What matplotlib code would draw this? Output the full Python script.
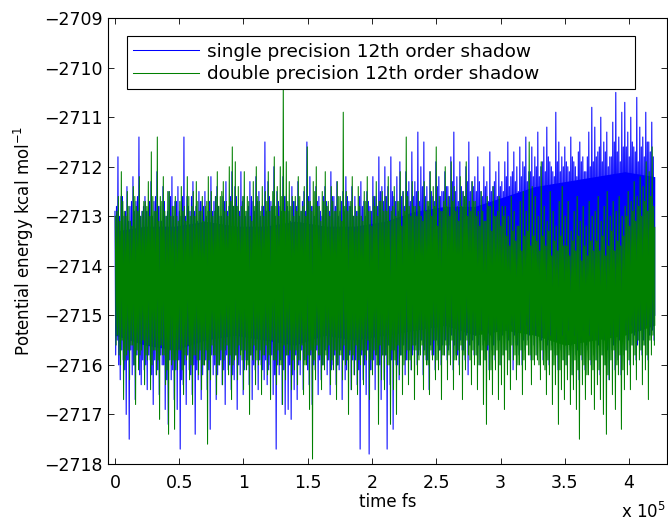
import matplotlib
matplotlib.use("Agg")
import matplotlib.pyplot as plt
from matplotlib.ticker import FuncFormatter, MultipleLocator
import numpy as np

plt.rcParams['font.family'] = ['DejaVu Sans']

# samples, 180 per list, spread over 0 .. 4.2e5 fs
# *_hi / *_lo : the tall spikes,  *_hi2 / *_lo2 : the short spikes at the edge of the solid band
t_end = 4.2e5

single_hi = [
    -2712.9, -2711.8, -2712.6, -2713.0, -2712.4, -2712.8, -2712.2, -2712.7, -2711.4, -2712.9,
    -2712.6, -2712.9, -2712.3, -2712.7, -2712.1, -2712.8, -2712.4, -2713.0, -2712.5, -2712.2,
    -2712.7, -2712.4, -2713.0, -2711.4, -2712.6, -2712.9, -2712.3, -2712.8, -2712.5, -2712.7,
    -2712.5, -2712.9, -2712.2, -2712.7, -2712.4, -2713.0, -2712.6, -2712.3, -2712.8, -2712.1,
    -2712.4, -2712.8, -2712.1, -2712.6, -2712.9, -2712.3, -2712.7, -2712.2, -2712.5, -2712.8,
    -2711.5, -2712.3, -2712.7, -2712.0, -2712.5, -2712.8, -2712.2, -2712.6, -2712.9, -2712.4,
    -2712.7, -2712.3, -2712.9, -2712.5, -2711.5, -2712.2, -2712.8, -2712.4, -2712.6, -2713.0,
    -2712.4, -2712.8, -2712.1, -2712.6, -2712.3, -2712.9, -2712.5, -2712.2, -2712.7, -2712.4,
    -2712.6, -2712.9, -2712.3, -2712.7, -2712.5, -2712.8, -2712.2, -2712.6, -2711.8, -2712.4,
    -2712.0, -2712.4, -2711.8, -2712.6, -2712.2, -2711.9, -2712.5, -2712.1, -2712.3, -2711.7,
    -2712.3, -2711.3, -2712.0, -2711.5, -2712.4, -2712.1, -2712.6, -2711.9, -2712.2, -2712.5,
    -2712.1, -2712.4, -2711.8, -2711.3, -2712.2, -2711.9, -2712.5, -2712.0, -2711.5, -2712.3,
    -2712.2, -2711.8, -2712.5, -2712.0, -2712.3, -2711.7, -2712.4, -2712.1, -2711.9, -2712.3,
    -2711.9, -2711.5, -2712.2, -2711.7, -2712.0, -2711.6, -2711.9, -2711.4, -2712.1, -2711.6,
    -2711.8, -2711.3, -2712.0, -2711.6, -2711.2, -2711.9, -2712.1, -2710.9, -2711.5, -2711.8,
    -2711.6, -2712.0, -2711.4, -2711.9, -2712.2, -2711.5, -2711.8, -2712.1, -2711.3, -2710.8,
    -2711.2, -2711.7, -2711.0, -2711.5, -2711.3, -2711.8, -2711.1, -2710.5, -2711.4, -2710.9,
    -2710.7, -2711.3, -2711.0, -2711.6, -2710.6, -2711.2, -2711.4, -2710.9, -2711.5, -2711.1,
]
single_lo = [
    -2715.5, -2716.3, -2715.9, -2717.0, -2717.5, -2716.2, -2716.7, -2715.8, -2716.4, -2716.1,
    -2716.5, -2715.9, -2716.8, -2716.2, -2716.6, -2716.0, -2716.9, -2717.2, -2716.3, -2716.7,
    -2716.9, -2717.7, -2716.4, -2716.8, -2716.1, -2716.6, -2717.4, -2716.3, -2716.7, -2716.0,
    -2716.5, -2717.3, -2716.2, -2716.7, -2716.0, -2716.4, -2716.8, -2716.1, -2716.5, -2716.3,
    -2716.9, -2716.2, -2716.6, -2715.9, -2716.4, -2716.7, -2716.1, -2716.5, -2716.0, -2716.3,
    -2716.4, -2716.0, -2716.6, -2717.7, -2716.2, -2716.8, -2717.0, -2716.9, -2717.1, -2716.5,
    -2716.7, -2716.2, -2716.5, -2715.9, -2716.4, -2716.8, -2716.1, -2716.6, -2716.3, -2716.0,
    -2716.2, -2716.6, -2716.0, -2716.4, -2716.1, -2716.7, -2716.3, -2715.9, -2716.5, -2716.2,
    -2716.4, -2717.7, -2716.3, -2716.6, -2717.8, -2716.1, -2716.5, -2716.0, -2716.7, -2716.3,
    -2717.7, -2716.4, -2717.3, -2716.0, -2716.3, -2715.8, -2716.2, -2715.9, -2716.1, -2715.7,
    -2716.0, -2715.7, -2716.2, -2715.9, -2716.5, -2715.8, -2716.1, -2715.6, -2716.0, -2715.8,
    -2715.9, -2715.6, -2716.1, -2715.8, -2716.0, -2715.7, -2715.9, -2716.2, -2715.6, -2715.8,
    -2715.8, -2716.0, -2715.6, -2715.9, -2716.1, -2715.7, -2715.9, -2715.5, -2716.0, -2715.8,
    -2715.7, -2715.9, -2716.1, -2715.6, -2715.8, -2716.0, -2715.7, -2715.5, -2715.9, -2715.6,
    -2715.8, -2715.5, -2715.9, -2715.7, -2716.0, -2715.6, -2715.8, -2716.1, -2715.7, -2715.9,
    -2716.0, -2715.7, -2716.2, -2715.8, -2716.3, -2715.9, -2716.1, -2715.7, -2716.0, -2715.8,
    -2715.9, -2716.2, -2715.8, -2716.0, -2716.3, -2715.7, -2716.1, -2715.9, -2716.2, -2715.8,
    -2715.7, -2716.0, -2715.6, -2715.9, -2715.5, -2715.8, -2715.6, -2715.9, -2715.4, -2715.5,
]
single_hi2 = [
    -2712.8, -2713.0, -2712.6, -2712.9, -2713.1, -2712.7, -2712.9, -2712.6, -2713.0, -2712.8,
    -2712.9, -2712.7, -2713.0, -2712.6, -2712.8, -2713.1, -2712.7, -2712.9, -2712.6, -2713.0,
    -2712.7, -2712.9, -2712.6, -2713.0, -2712.8, -2712.6, -2712.9, -2713.1, -2712.7, -2712.8,
    -2713.0, -2712.7, -2712.9, -2712.6, -2712.8, -2713.0, -2712.7, -2712.9, -2712.6, -2712.8,
    -2712.6, -2712.9, -2712.7, -2713.0, -2712.8, -2712.6, -2712.9, -2712.7, -2713.0, -2712.8,
    -2712.9, -2712.6, -2712.8, -2713.0, -2712.7, -2712.9, -2712.6, -2712.8, -2713.1, -2712.7,
    -2712.8, -2713.0, -2712.7, -2712.9, -2712.6, -2712.8, -2713.0, -2712.7, -2712.9, -2712.6,
    -2712.7, -2712.9, -2712.6, -2712.8, -2713.0, -2712.7, -2712.9, -2712.6, -2712.8, -2713.0,
    -2712.9, -2712.6, -2712.8, -2713.0, -2712.7, -2712.9, -2712.6, -2712.8, -2712.5, -2712.7,
    -2712.6, -2712.8, -2712.5, -2712.7, -2712.9, -2712.6, -2712.8, -2712.5, -2712.7, -2712.6,
    -2712.5, -2712.7, -2712.4, -2712.6, -2712.8, -2712.5, -2712.7, -2712.4, -2712.6, -2712.5,
    -2712.4, -2712.6, -2712.3, -2712.5, -2712.7, -2712.4, -2712.6, -2712.3, -2712.5, -2712.4,
    -2712.5, -2712.3, -2712.6, -2712.4, -2712.7, -2712.5, -2712.3, -2712.6, -2712.4, -2712.5,
    -2712.2, -2712.4, -2712.1, -2712.3, -2712.5, -2712.2, -2712.0, -2712.3, -2712.1, -2712.2,
    -2712.0, -2712.2, -2711.9, -2712.1, -2711.8, -2712.0, -2712.2, -2711.9, -2712.1, -2712.0,
    -2711.9, -2712.1, -2711.8, -2712.0, -2711.7, -2711.9, -2712.1, -2711.8, -2712.0, -2711.9,
    -2711.8, -2711.6, -2711.9, -2711.7, -2712.0, -2711.8, -2711.5, -2711.7, -2711.9, -2711.6,
    -2711.6, -2711.8, -2711.5, -2711.7, -2711.9, -2711.6, -2711.8, -2711.5, -2711.7, -2711.8,
]
single_lo2 = [
    -2715.8, -2716.0, -2715.7, -2716.1, -2715.9, -2715.7, -2716.0, -2715.8, -2716.2, -2715.9,
    -2716.0, -2715.8, -2716.2, -2715.9, -2716.1, -2715.8, -2716.0, -2716.3, -2715.9, -2716.1,
    -2716.1, -2715.9, -2716.3, -2716.0, -2715.8, -2716.2, -2716.0, -2716.1, -2715.9, -2716.2,
    -2715.9, -2716.1, -2715.8, -2716.0, -2716.2, -2715.9, -2716.1, -2715.8, -2716.0, -2716.2,
    -2715.8, -2716.0, -2715.7, -2716.1, -2715.9, -2715.8, -2716.0, -2715.7, -2715.9, -2716.1,
    -2715.9, -2716.1, -2715.8, -2716.2, -2716.0, -2715.9, -2716.1, -2715.8, -2716.0, -2716.2,
    -2715.8, -2716.0, -2715.7, -2715.9, -2716.1, -2715.8, -2716.0, -2715.7, -2715.9, -2716.0,
    -2715.7, -2715.9, -2716.1, -2715.8, -2716.0, -2715.7, -2715.9, -2716.1, -2715.8, -2715.9,
    -2715.9, -2716.1, -2715.8, -2716.0, -2715.7, -2716.1, -2715.9, -2715.8, -2716.0, -2715.8,
    -2715.8, -2715.6, -2715.9, -2715.7, -2716.0, -2715.8, -2715.6, -2715.9, -2715.7, -2715.8,
    -2715.6, -2715.8, -2715.5, -2715.7, -2715.9, -2715.6, -2715.8, -2715.5, -2715.7, -2715.6,
    -2715.5, -2715.7, -2715.4, -2715.6, -2715.8, -2715.5, -2715.7, -2715.4, -2715.6, -2715.5,
    -2715.4, -2715.6, -2715.3, -2715.5, -2715.7, -2715.4, -2715.6, -2715.3, -2715.5, -2715.4,
    -2715.3, -2715.5, -2715.2, -2715.4, -2715.6, -2715.3, -2715.5, -2715.2, -2715.4, -2715.3,
    -2715.4, -2715.2, -2715.5, -2715.3, -2715.6, -2715.4, -2715.2, -2715.5, -2715.3, -2715.4,
    -2715.5, -2715.3, -2715.6, -2715.4, -2715.7, -2715.5, -2715.3, -2715.6, -2715.4, -2715.5,
    -2715.4, -2715.6, -2715.3, -2715.5, -2715.7, -2715.4, -2715.6, -2715.3, -2715.5, -2715.4,
    -2715.3, -2715.5, -2715.2, -2715.4, -2715.6, -2715.3, -2715.5, -2715.2, -2715.4, -2715.3,
]

double_hi = [
    -2713.0, -2712.6, -2712.1, -2712.9, -2712.5, -2713.1, -2712.4, -2712.8, -2712.2, -2712.9,
    -2712.7, -2712.3, -2711.7, -2712.9, -2711.4, -2712.6, -2712.2, -2713.0, -2712.5, -2712.8,
    -2712.6, -2713.1, -2712.4, -2712.8, -2712.2, -2713.0, -2712.5, -2712.3, -2712.9, -2712.6,
    -2712.8, -2712.2, -2712.5, -2712.9, -2712.1, -2712.6, -2712.3, -2712.7, -2712.0, -2711.6,
    -2711.9, -2712.4, -2712.8, -2712.1, -2712.6, -2713.0, -2712.3, -2712.0, -2712.7, -2712.4,
    -2712.5, -2712.1, -2712.8, -2711.8, -2712.4, -2712.0, -2710.3, -2711.9, -2712.3, -2712.6,
    -2712.6, -2712.2, -2712.9, -2712.4, -2711.6, -2712.7, -2712.3, -2712.0, -2712.8, -2712.5,
    -2712.1, -2712.7, -2712.4, -2712.9, -2712.3, -2712.6, -2710.9, -2712.5, -2712.8, -2712.2,
    -2712.8, -2712.4, -2713.0, -2712.5, -2712.2, -2712.9, -2712.6, -2712.3, -2712.7, -2712.5,
    -2712.6, -2712.2, -2712.9, -2712.4, -2712.7, -2712.1, -2712.5, -2711.4, -2712.8, -2712.3,
    -2712.8, -2712.5, -2713.0, -2712.3, -2712.7, -2712.1, -2712.4, -2711.6, -2712.6, -2712.9,
    -2712.0, -2712.6, -2711.9, -2712.4, -2712.8, -2712.2, -2712.5, -2711.9, -2712.7, -2712.3,
    -2712.7, -2712.9, -2712.5, -2713.1, -2712.6, -2712.8, -2712.4, -2713.0, -2712.6, -2712.8,
    -2712.8, -2713.0, -2712.6, -2712.9, -2713.2, -2712.7, -2712.5, -2712.9, -2711.5, -2712.4,
    -2712.6, -2713.0, -2711.9, -2712.8, -2713.1, -2712.5, -2712.9, -2713.2, -2712.7, -2712.4,
    -2713.0, -2712.7, -2713.3, -2712.9, -2712.6, -2713.1, -2712.8, -2713.2, -2712.7, -2713.0,
    -2712.9, -2712.6, -2713.1, -2712.8, -2712.5, -2713.0, -2712.7, -2712.9, -2712.6, -2713.0,
    -2712.8, -2712.5, -2712.7, -2712.3, -2712.6, -2712.2, -2712.4, -2711.9, -2712.1, -2711.6,
]
double_lo = [
    -2715.4, -2716.0, -2716.7, -2715.8, -2716.3, -2715.6, -2716.8, -2716.1, -2715.7, -2716.4,
    -2715.9, -2716.5, -2715.7, -2716.2, -2717.1, -2715.8, -2716.4, -2717.4, -2716.0, -2717.3,
    -2716.1, -2715.7, -2716.6, -2715.9, -2716.3, -2716.8, -2715.8, -2716.2, -2716.5, -2716.0,
    -2717.6, -2716.3, -2715.8, -2716.6, -2716.0, -2716.4, -2715.7, -2716.2, -2716.7, -2715.9,
    -2716.3, -2715.8, -2716.5, -2716.1, -2717.0, -2715.9, -2716.4, -2716.0, -2716.6, -2715.8,
    -2716.2, -2716.7, -2715.9, -2716.4, -2716.0, -2716.8, -2716.3, -2715.8, -2716.5, -2716.1,
    -2716.4, -2715.9, -2716.6, -2716.0, -2716.9, -2717.9, -2716.3, -2715.8, -2716.5, -2716.1,
    -2715.9, -2716.4, -2716.1, -2716.7, -2715.8, -2716.3, -2716.0, -2717.0, -2716.5, -2716.2,
    -2716.6, -2716.0, -2716.4, -2715.9, -2716.7, -2716.2, -2715.8, -2717.2, -2716.3, -2716.5,
    -2716.0, -2717.2, -2716.5, -2717.0, -2716.2, -2716.6, -2715.9, -2716.4, -2716.1, -2716.7,
    -2716.2, -2715.8, -2716.5, -2716.0, -2716.6, -2715.9, -2716.3, -2716.1, -2716.7, -2715.8,
    -2716.3, -2716.0, -2716.5, -2715.9, -2716.2, -2716.7, -2716.1, -2715.8, -2716.4, -2716.0,
    -2716.5, -2716.0, -2716.8, -2717.2, -2716.3, -2716.6, -2716.1, -2716.7, -2716.4, -2716.9,
    -2716.2, -2716.5, -2715.9, -2716.3, -2716.0, -2716.6, -2716.1, -2715.8, -2716.4, -2716.0,
    -2715.9, -2716.3, -2716.0, -2716.6, -2716.2, -2716.8, -2716.4, -2717.2, -2716.5, -2716.7,
    -2716.3, -2716.8, -2716.5, -2716.9, -2717.5, -2716.4, -2716.7, -2716.2, -2716.6, -2716.9,
    -2716.4, -2716.7, -2717.0, -2717.4, -2716.3, -2716.6, -2716.9, -2716.2, -2717.3, -2716.5,
    -2716.2, -2716.5, -2716.0, -2716.3, -2715.9, -2716.4, -2716.1, -2716.7, -2715.8, -2715.6,
]
double_hi2 = [
    -2712.9, -2713.1, -2712.7, -2713.0, -2712.8, -2713.2, -2712.6, -2712.9, -2713.0, -2712.7,
    -2712.8, -2713.0, -2712.6, -2712.9, -2713.1, -2712.7, -2712.9, -2712.5, -2713.0, -2712.8,
    -2713.0, -2712.7, -2712.9, -2713.1, -2712.6, -2712.8, -2713.0, -2712.7, -2712.9, -2713.1,
    -2712.7, -2712.9, -2713.0, -2712.6, -2712.8, -2712.5, -2712.9, -2713.0, -2712.7, -2712.8,
    -2712.8, -2713.0, -2712.6, -2712.9, -2712.7, -2713.1, -2712.8, -2712.6, -2712.9, -2713.0,
    -2712.7, -2712.9, -2712.5, -2712.8, -2713.0, -2712.6, -2712.9, -2712.7, -2712.8, -2713.0,
    -2712.9, -2712.6, -2712.8, -2713.0, -2712.7, -2712.9, -2712.5, -2712.8, -2713.1, -2712.7,
    -2712.8, -2713.0, -2712.7, -2712.9, -2712.6, -2713.1, -2712.8, -2712.9, -2712.7, -2713.0,
    -2713.0, -2712.8, -2713.1, -2712.7, -2712.9, -2713.2, -2712.8, -2713.0, -2712.7, -2712.9,
    -2712.9, -2713.1, -2712.8, -2713.0, -2712.7, -2713.2, -2712.9, -2712.6, -2713.0, -2712.8,
    -2713.0, -2712.8, -2713.1, -2712.9, -2712.7, -2713.0, -2712.8, -2713.2, -2712.9, -2712.7,
    -2712.8, -2713.0, -2712.7, -2712.9, -2713.1, -2712.8, -2712.6, -2713.0, -2712.9, -2712.7,
    -2713.0, -2713.2, -2712.9, -2713.1, -2712.8, -2713.3, -2713.0, -2712.9, -2713.2, -2713.0,
    -2713.4, -2713.6, -2713.3, -2713.5, -2713.2, -2713.7, -2713.4, -2713.3, -2713.6, -2713.4,
    -2713.5, -2713.7, -2713.4, -2713.6, -2713.3, -2713.8, -2713.5, -2713.7, -2713.4, -2713.6,
    -2713.6, -2713.8, -2713.5, -2713.7, -2713.4, -2713.9, -2713.6, -2713.8, -2713.5, -2713.7,
    -2713.5, -2713.7, -2713.4, -2713.8, -2713.6, -2713.3, -2713.7, -2713.5, -2713.6, -2713.4,
    -2713.0, -2713.2, -2712.9, -2713.1, -2712.8, -2713.0, -2712.7, -2712.9, -2712.6, -2712.8,
]
double_lo2 = [
    -2715.6, -2715.8, -2715.5, -2715.9, -2715.7, -2715.6, -2716.0, -2715.7, -2715.8, -2715.5,
    -2715.8, -2715.6, -2716.0, -2715.7, -2715.9, -2715.6, -2715.8, -2716.1, -2715.7, -2715.9,
    -2715.9, -2715.7, -2716.1, -2715.8, -2715.6, -2716.0, -2715.8, -2715.9, -2715.7, -2716.0,
    -2715.7, -2715.9, -2715.6, -2715.8, -2716.0, -2715.7, -2715.9, -2715.6, -2715.8, -2716.0,
    -2715.8, -2715.6, -2715.9, -2715.7, -2716.0, -2715.8, -2715.6, -2715.9, -2715.7, -2715.8,
    -2715.6, -2715.8, -2715.5, -2715.9, -2715.7, -2716.0, -2715.6, -2715.8, -2715.7, -2715.9,
    -2715.7, -2715.9, -2715.6, -2716.0, -2715.8, -2715.7, -2715.9, -2715.6, -2715.8, -2716.0,
    -2715.8, -2715.6, -2715.9, -2715.7, -2716.0, -2715.8, -2715.6, -2715.9, -2715.7, -2715.8,
    -2715.6, -2715.9, -2715.7, -2715.8, -2715.5, -2715.9, -2715.7, -2716.0, -2715.6, -2715.8,
    -2715.8, -2716.0, -2715.7, -2715.9, -2715.6, -2715.8, -2716.0, -2715.7, -2715.9, -2715.6,
    -2715.7, -2715.9, -2715.6, -2715.8, -2716.0, -2715.7, -2715.5, -2715.9, -2715.7, -2715.8,
    -2715.6, -2715.8, -2715.5, -2715.9, -2715.7, -2715.6, -2715.8, -2715.5, -2715.9, -2715.7,
    -2715.8, -2716.0, -2715.7, -2715.9, -2715.6, -2716.1, -2715.8, -2715.7, -2716.0, -2715.8,
    -2715.7, -2715.9, -2715.6, -2715.8, -2716.0, -2715.7, -2715.9, -2715.6, -2715.8, -2715.9,
    -2715.8, -2716.0, -2715.7, -2716.1, -2715.9, -2715.7, -2716.0, -2715.8, -2716.1, -2715.9,
    -2716.0, -2715.8, -2716.2, -2715.9, -2716.1, -2715.8, -2716.0, -2716.2, -2715.9, -2716.1,
    -2715.9, -2716.1, -2715.8, -2716.0, -2716.2, -2715.9, -2715.7, -2716.0, -2715.8, -2716.1,
    -2715.7, -2715.9, -2715.6, -2715.8, -2715.5, -2715.7, -2715.6, -2715.8, -2715.5, -2715.4,
]

# edges of the solid core of each trace, read every 0.2333e5 fs (19 points)
single_core_top = [-2713.3, -2713.2, -2713.2, -2713.1, -2713.2, -2713.2, -2713.1, -2713.2, -2713.2, -2713.1,
                   -2712.9, -2712.8, -2712.8, -2712.6, -2712.4, -2712.3, -2712.2, -2712.1, -2712.2]
single_core_bot = [-2715.4, -2715.6, -2715.7, -2715.5, -2715.4, -2715.5, -2715.6, -2715.4, -2715.5, -2715.4,
                   -2715.3, -2715.2, -2715.2, -2715.1, -2715.1, -2715.2, -2715.2, -2715.1, -2715.0]
double_core_top = [-2713.4, -2713.2, -2713.3, -2713.1, -2713.2, -2713.3, -2713.1, -2713.2, -2713.3, -2713.4,
                   -2713.3, -2713.2, -2713.4, -2713.5, -2713.6, -2713.8, -2713.7, -2713.5, -2713.2]
double_core_bot = [-2715.2, -2715.4, -2715.5, -2715.3, -2715.4, -2715.2, -2715.3, -2715.4, -2715.2, -2715.4,
                   -2715.3, -2715.2, -2715.4, -2715.3, -2715.4, -2715.6, -2715.5, -2715.4, -2715.2]


def trace(hi, lo, hi2, lo2, shift=0.0):
    # time order inside each step: tall peak, short trough, short peak, tall trough
    n = len(hi)
    dt = t_end / n
    base = np.arange(n) * dt + shift * dt
    t = np.column_stack([base, base + dt / 4, base + dt / 2, base + 3 * dt / 4]).ravel()
    y = np.column_stack([hi, lo2, hi2, lo]).ravel()
    keep = t <= t_end
    return t[keep], y[keep]


fig = plt.figure(figsize=(6.68, 5.24), dpi=100)
ax = fig.add_axes([0.1617, 0.1145, 0.8368, 0.851])

blue = '#0000ff'
green = '#008000'
t_core = np.linspace(0, t_end, len(single_core_top))

t1, e1 = trace(single_hi, single_lo, single_hi2, single_lo2)
t2, e2 = trace(double_hi, double_lo, double_hi2, double_lo2, shift=0.125)
ax.fill_between(t_core, single_core_bot, single_core_top, color=blue, lw=0)
ax.plot(t1, e1, color=blue, lw=0.75, label='single precision 12th order shadow')
ax.fill_between(t_core, double_core_bot, double_core_top, color=green, lw=0)
ax.plot(t2, e2, color=green, lw=0.75, label='double precision 12th order shadow')

ax.set_xlim(-5400, 4.295e5)
ax.set_ylim(-2718, -2709)
ax.xaxis.set_major_locator(MultipleLocator(0.5e5))
ax.xaxis.set_major_formatter(FuncFormatter(lambda v, _: f'{v / 1e5:g}'))
ax.yaxis.set_major_locator(MultipleLocator(1))
ax.tick_params(direction='in', length=4, width=0.6, top=True, right=True, labelsize=12.5)
ax.tick_params(axis='y', pad=4)
ax.tick_params(axis='x', pad=7)
for s in ax.spines.values():
    s.set_linewidth(0.8)

ax.set_xlabel('time fs', fontsize=12, labelpad=1)
ax.set_ylabel('Potential energy kcal mol$^{-1}$', fontsize=12, labelpad=6)
fig.text(0.930, 0.004, 'x 10$^{5}$', fontsize=12, va='bottom')

leg = ax.legend(loc='lower left', bbox_to_anchor=(0.0334, 0.840, 0.910, 0.133),
                mode='expand', fontsize=13.3, frameon=True, fancybox=False,
                handlelength=3.6, handletextpad=0.4, borderpad=0.33,
                labelspacing=0.26, borderaxespad=0)
leg.get_frame().set_edgecolor('black')
leg.get_frame().set_linewidth(0.8)
leg.get_frame().set_alpha(1)

fig.savefig('out.png', dpi=100)
